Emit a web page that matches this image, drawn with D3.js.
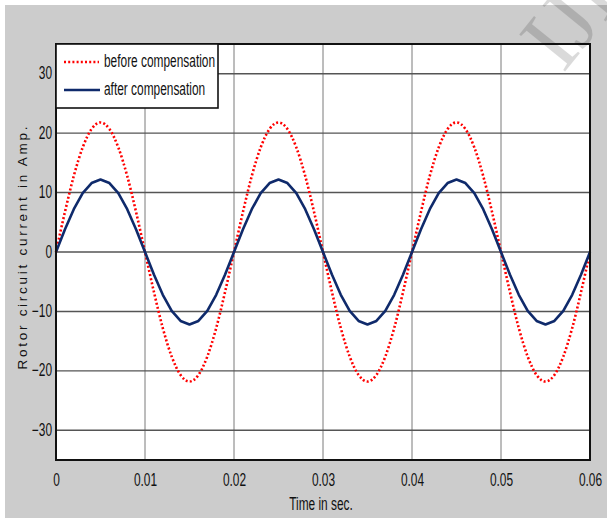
<!doctype html>
<html>
<head>
<meta charset="utf-8">
<script src="https://cdnjs.cloudflare.com/ajax/libs/d3/7.8.5/d3.min.js"></script>
<style>
  body { margin: 0; background: #fff; }
  svg { display: block; }
  .narrow { font-family: "Liberation Sans Narrow", "Arial Narrow", "Liberation Sans", sans-serif; font-size: 14px; fill: #111; }
</style>
</head>
<body>
<svg id="chart" width="607" height="518"></svg>
<script>
// time axis (s), one sample per ms
var time = [0,0.001,0.002,0.003,0.004,0.005,0.006,0.007,0.008,0.009,
            0.010,0.011,0.012,0.013,0.014,0.015,0.016,0.017,0.018,0.019,
            0.020,0.021,0.022,0.023,0.024,0.025,0.026,0.027,0.028,0.029,
            0.030,0.031,0.032,0.033,0.034,0.035,0.036,0.037,0.038,0.039,
            0.040,0.041,0.042,0.043,0.044,0.045,0.046,0.047,0.048,0.049,
            0.050,0.051,0.052,0.053,0.054,0.055,0.056,0.057,0.058,0.059,0.060];

// rotor current before compensation (A)
var before = [0,6.7,12.8,17.6,20.7,21.8,20.7,17.6,12.8,6.7,
              0,-6.7,-12.8,-17.6,-20.7,-21.8,-20.7,-17.6,-12.8,-6.7,
              0,6.7,12.8,17.6,20.7,21.8,20.7,17.6,12.8,6.7,
              0,-6.7,-12.8,-17.6,-20.7,-21.8,-20.7,-17.6,-12.8,-6.7,
              0,6.7,12.8,17.6,20.7,21.8,20.7,17.6,12.8,6.7,
              0,-6.7,-12.8,-17.6,-20.7,-21.8,-20.7,-17.6,-12.8,-6.7,0];

// rotor current after compensation (A)
var after = [0,3.8,7.2,9.9,11.6,12.2,11.6,9.9,7.2,3.8,
             0,-3.8,-7.2,-9.9,-11.6,-12.2,-11.6,-9.9,-7.2,-3.8,
             0,3.8,7.2,9.9,11.6,12.2,11.6,9.9,7.2,3.8,
             0,-3.8,-7.2,-9.9,-11.6,-12.2,-11.6,-9.9,-7.2,-3.8,
             0,3.8,7.2,9.9,11.6,12.2,11.6,9.9,7.2,3.8,
             0,-3.8,-7.2,-9.9,-11.6,-12.2,-11.6,-9.9,-7.2,-3.8,0];

var xTicks = [0,0.01,0.02,0.03,0.04,0.05,0.06];
var xTickLabels = ["0","0.01","0.02","0.03","0.04","0.05","0.06"];
var yTicks = [-30,-20,-10,0,10,20,30];
var seriesNames = ["before compensation","after compensation"];

var svg = d3.select("#chart");
var W = 607, H = 518;
var m = {left: 56, right: 590, top: 44, bottom: 460};
var squash = "scale(0.85,1.25)";   // picture is stretched a bit vertically

// grey figure background
svg.append("rect").attr("x", 5).attr("y", 5).attr("width", W - 5).attr("height", H - 5).attr("fill", "#cccccc");

var x = d3.scaleLinear().domain([0, 0.06]).range([m.left, m.right]);
var y = d3.scaleLinear().domain([-35, 35]).range([m.bottom, m.top]);

svg.append("rect").attr("x", m.left).attr("y", m.top)
   .attr("width", m.right - m.left).attr("height", m.bottom - m.top).attr("fill", "#fff");

// grid
svg.append("g").selectAll("line").data(xTicks.slice(1, -1)).enter().append("line")
   .attr("x1", d => x(d)).attr("x2", d => x(d)).attr("y1", m.top).attr("y2", m.bottom)
   .attr("stroke", "#7a7a7a").attr("stroke-width", 1);
svg.append("g").selectAll("line").data(yTicks).enter().append("line")
   .attr("x1", m.left).attr("x2", m.right).attr("y1", d => y(d)).attr("y2", d => y(d))
   .attr("stroke", "#555").attr("stroke-width", 1.4);

// curves
var redLine = d3.line().x((d, i) => x(time[i])).y(d => y(d)).curve(d3.curveMonotoneX);
var blueLine = d3.line().x((d, i) => x(time[i])).y(d => y(d));

svg.append("path").datum(before).attr("d", redLine).attr("fill", "none")
   .attr("stroke", "#ff0000").attr("stroke-width", 2.6).attr("stroke-dasharray", "2,2.2");
svg.append("path").datum(after).attr("d", blueLine).attr("fill", "none")
   .attr("stroke", "#0f2a6b").attr("stroke-width", 2.6).attr("stroke-linejoin", "round");

// axes box
svg.append("rect").attr("x", m.left).attr("y", m.top)
   .attr("width", m.right - m.left).attr("height", m.bottom - m.top)
   .attr("fill", "none").attr("stroke", "#111").attr("stroke-width", 2);

// tick labels
var xa = svg.append("g").attr("transform", "translate(0," + m.bottom + ")")
   .call(d3.axisBottom(x).tickValues(xTicks).tickSize(0).tickPadding(0)
   .tickFormat((d, i) => xTickLabels[i]));
xa.select(".domain").remove();
xa.selectAll("text").attr("class", "narrow").attr("y", 0).attr("dy", null)
   .attr("transform", "translate(0,26) " + squash);

var ya = svg.append("g").attr("transform", "translate(" + m.left + ",0)")
   .call(d3.axisLeft(y).tickValues(yTicks).tickSize(0).tickPadding(0));
ya.select(".domain").remove();
ya.selectAll("text").attr("class", "narrow").attr("x", 0).attr("dy", null)
   .attr("transform", "translate(-4,5) " + squash);

// axis titles
svg.append("text").attr("class", "narrow").attr("text-anchor", "middle")
   .attr("transform", "translate(321,510) " + squash).text("Time in sec.");
svg.append("text").attr("text-anchor", "middle")
   .attr("transform", "translate(27,248) rotate(-90)")
   .attr("font-family", "Liberation Sans, Arial, sans-serif").attr("font-size", 13.5)
   .attr("textLength", 243).attr("lengthAdjust", "spacing").attr("fill", "#111")
   .text("Rotor circuit current in Amp.");

// legend
var lg = svg.append("g");
lg.append("rect").attr("x", m.left).attr("y", m.top).attr("width", 162).attr("height", 64)
  .attr("fill", "#fff").attr("stroke", "#111").attr("stroke-width", 1.6);
lg.append("line").attr("x1", 64).attr("x2", 99).attr("y1", 62).attr("y2", 62)
  .attr("stroke", "#ff0000").attr("stroke-width", 2.6).attr("stroke-dasharray", "2,2.2");
lg.append("line").attr("x1", 64).attr("x2", 100).attr("y1", 90).attr("y2", 90)
  .attr("stroke", "#0f2a6b").attr("stroke-width", 2.6);
lg.selectAll("text").data(seriesNames).enter().append("text").attr("class", "narrow")
  .attr("transform", (d, i) => "translate(104," + (67 + i * 28) + ") " + squash)
  .text(d => d);

// watermark, cut by the page edge as in the source
svg.append("text").attr("transform", "translate(563,74) rotate(-51)")
   .attr("font-family", "Liberation Serif, Times New Roman, serif").attr("font-size", 90)
   .attr("fill", "#000").attr("opacity", 0.14).text("IJERT");
</script>
</body>
</html>
